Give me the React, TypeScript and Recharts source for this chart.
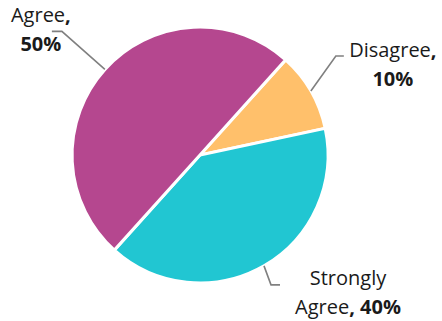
import React from 'react';
import { PieChart, Pie, Cell } from 'recharts';

const categories = ['Disagree', 'Strongly Agree', 'Agree'];
const values = [10, 40, 50];
const colors = ['#FFC06B', '#21C6D2', '#B5478F'];
// words of the name that go on the first label line
const firstLineWords = [1, 1, 1];
// label layout relative to the slice's outer edge point
const labelLayout = [
  { knee: [25, -35], end: [33, -35], text: [82, -34] },
  { knee: [7, 19], end: [16, 19], text: [84, 19] },
  { knee: [-43, -38], end: [-53, -38], text: [-64, -47] },
];

const data = categories.map((name, i) => ({ name, value: values[i] }));

const RAD = Math.PI / 180;
const LINE_H = 29;

const renderLabel = (props: any) => {
  const { cx, cy, midAngle, outerRadius, index, percent, name } = props;
  const ex = cx + outerRadius * Math.cos(-midAngle * RAD);
  const ey = cy + outerRadius * Math.sin(-midAngle * RAD);
  const L = labelLayout[index];
  const pct = `${Math.round(percent * 100)}%`;
  const words = String(name).split(' ');
  const n = firstLineWords[index];
  const first = words.slice(0, n).join(' ');
  const rest = words.slice(n).join(' ');
  const tx = ex + L.text[0];
  const ty = ey + L.text[1];
  const textProps = {
    textAnchor: 'middle' as const,
    fill: '#1a1a1a',
    fontFamily: '"Open Sans", "Noto Sans", sans-serif',
    fontSize: 20,
  };
  let line1: React.ReactNode;
  let line2: React.ReactNode;
  if (rest) {
    line1 = <tspan>{first}</tspan>;
    line2 = (
      <>
        <tspan>{rest}</tspan>
        <tspan fontWeight="bold">{', ' + pct}</tspan>
      </>
    );
  } else {
    line1 = (
      <>
        <tspan>{first}</tspan>
        <tspan fontWeight="bold">,</tspan>
      </>
    );
    line2 = <tspan fontWeight="bold">{pct}</tspan>;
  }
  return (
    <g key={`lbl-${index}`}>
      <polyline
        points={`${ex},${ey} ${ex + L.knee[0]},${ey + L.knee[1]} ${ex + L.end[0]},${ey + L.end[1]}`}
        fill="none"
        stroke="#808080"
        strokeWidth={1.6}
      />
      <text x={tx} y={ty} {...textProps}>{line1}</text>
      <text x={tx} y={ty + LINE_H} {...textProps}>{line2}</text>
    </g>
  );
};

export default function App() {
  return (
    <div style={{ width: 442, height: 321 }}>
      <style>{`body{margin:0;}`}</style>
      <PieChart width={442} height={321} margin={{ top: 0, right: 0, bottom: 0, left: 0 }}>
        <Pie
          data={data}
          dataKey="value"
          nameKey="name"
          cx={200}
          cy={155}
          outerRadius={128}
          startAngle={48}
          endAngle={-312}
          stroke="#ffffff"
          strokeWidth={3}
          label={renderLabel}
          labelLine={false}
          isAnimationActive={false}
        >
          {data.map((d, i) => (
            <Cell key={d.name} fill={colors[i]} />
          ))}
        </Pie>
      </PieChart>
    </div>
  );
}
